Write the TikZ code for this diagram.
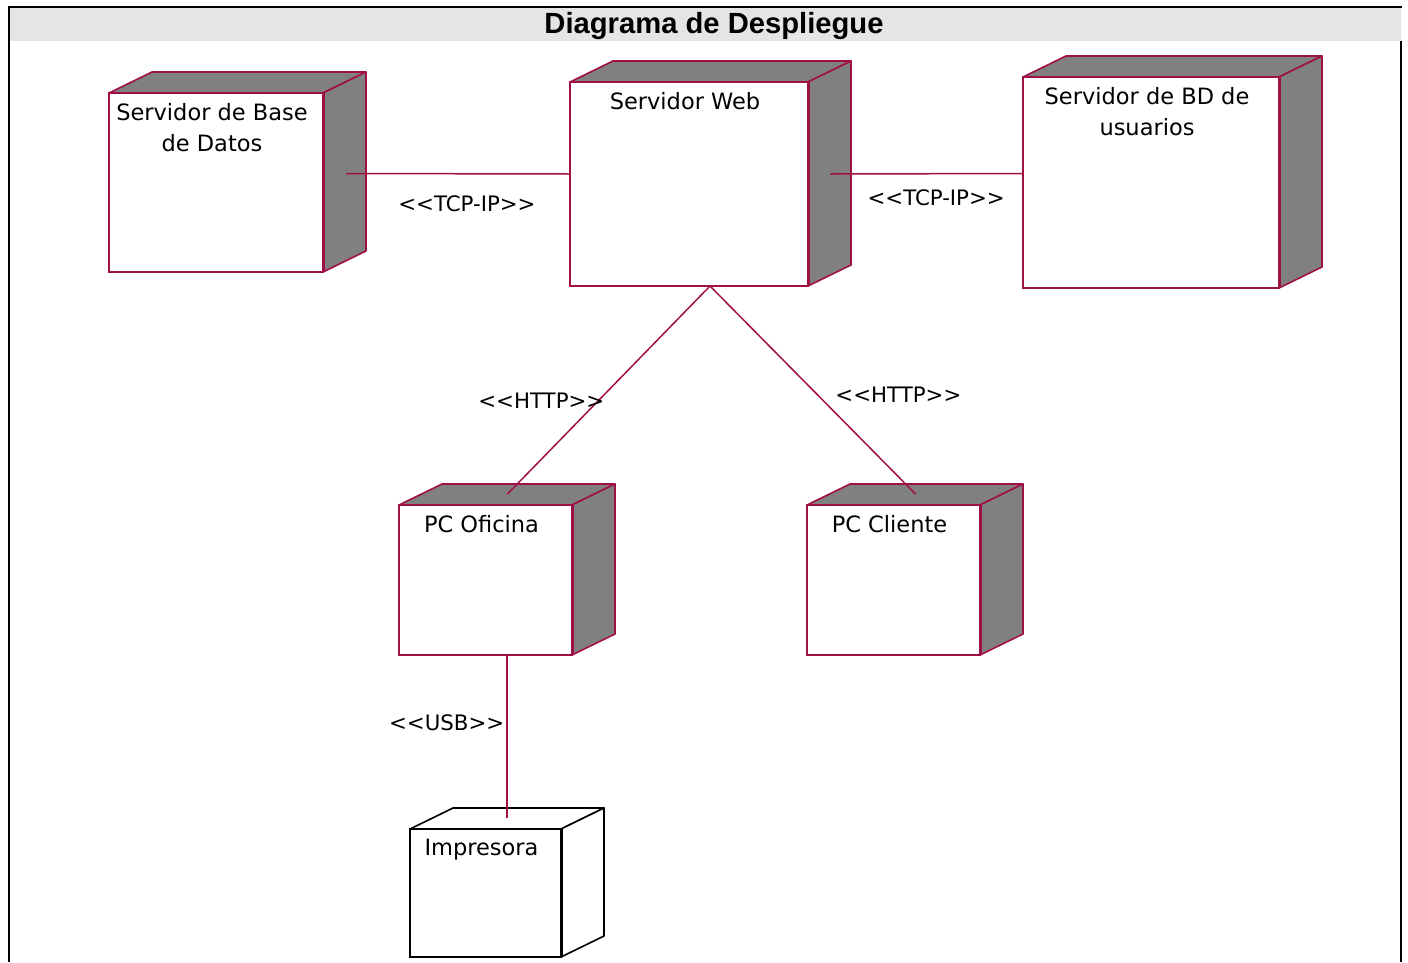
\documentclass[tikz,border=0pt]{standalone}
\usepackage{fontspec}
\newfontfamily\umlfont{DejaVu Sans}
\newfontfamily\titlefont{Liberation Sans}
\definecolor{devline}{RGB}{160,16,70}
\definecolor{devgray}{RGB}{128,128,128}
\definecolor{barfill}{RGB}{229,229,229}
\tikzset{
  dev/.style={draw=devline, line width=1.6pt, fill=white, inner sep=0pt, outer sep=0pt},
  face/.style={line width=1.6pt, line join=round},
  link/.style={draw=devline, line width=1.5pt},
  lbl/.style={font=\umlfont\fontsize{21.3}{31}\selectfont, inner sep=0pt},
  devname/.style={font=\umlfont\fontsize{22.5}{31}\selectfont, inner sep=0pt,
    align=center, anchor=north, yshift=-10pt, xshift=-4pt},
}
\newcommand{\stereo}[1]{<\kern0pt<#1>\kern0pt>}
% top and side of a device box: node, line colour, fill colour
\newcommand{\devfaces}[3]{%
  \filldraw[face, draw=#2, fill=#3] (#1.north west) -- ([shift={(43,-21)}]#1.north west)
    -- ([shift={(43,-21)}]#1.north east) -- (#1.north east) -- cycle;
  \filldraw[face, draw=#2, fill=#3] (#1.north east) -- ([shift={(43,-21)}]#1.north east)
    -- ([shift={(43,-21)}]#1.south east) -- (#1.south east) -- cycle;
  \draw[#2, line width=3pt] (#1.north east) -- (#1.south east);
}
\begin{document}
\begin{tikzpicture}[x=1pt, y=-1pt]
\useasboundingbox (0,0) rectangle (1408,962);

% frame and title
\fill[barfill] (9,8) rectangle (1401,41);
\draw[line width=2pt] (8,7) -- (1402,7);
\draw[line width=2pt] (9,7) -- (9,962);
\draw[line width=2pt] (1401,41) -- (1401,962);
\node[font=\titlefont\bfseries\fontsize{29.2}{35}\selectfont, inner sep=0pt] (title) at (714,26) {Diagrama de Despliegue};

% devices
\node[dev, minimum width=214pt, minimum height=179pt] (db) at (216,182.5) {};
\node[dev, minimum width=238pt, minimum height=204pt] (web) at (689,184) {};
\node[dev, minimum width=256pt, minimum height=211pt] (usr) at (1151,182.5) {};
\node[dev, minimum width=173pt, minimum height=150pt] (pco) at (485.5,580) {};
\node[dev, minimum width=173pt, minimum height=150pt] (pcc) at (893.5,580) {};
\node[dev, draw=black, minimum width=151pt, minimum height=128pt] (imp) at (485.5,893) {};

\devfaces{db}{devline}{devgray}
\devfaces{web}{devline}{devgray}
\devfaces{usr}{devline}{devgray}
\devfaces{pco}{devline}{devgray}
\devfaces{pcc}{devline}{devgray}
\devfaces{imp}{black}{white}

\node[devname] (db-t) at (db.north) {Servidor de Base\\de Datos};
\node[devname] (web-t) at (web.north) {Servidor Web};
\node[devname] (usr-t) at (usr.north) {Servidor de BD de\\usuarios};
\node[devname] (pco-t) at (pco.north) {PC Oficina};
\node[devname] (pcc-t) at (pcc.north) {PC Cliente};
\node[devname] (imp-t) at (imp.north) {Impresora};

% links
\draw[link] ([shift={(23,-9)}]db.east) -- ([shift={(0,-10)}]web.west)
  node[lbl, pos=0.54, anchor=north, yshift=-21pt] {\stereo{TCP-IP}};
\draw[link] ([shift={(22,-10)}]web.east) -- ([shift={(0,-9)}]usr.west)
  node[lbl, pos=0.55, anchor=north, yshift=-15.5pt] {\stereo{TCP-IP}};
\draw[link] ([xshift=21pt]web.south) -- ([shift={(22,-11)}]pco.north)
  node[lbl, pos=0.553, anchor=east, xshift=7pt] {\stereo{HTTP}};
\draw[link] ([xshift=21pt]web.south) -- ([shift={(22,-11)}]pcc.north)
  node[lbl, pos=0.524, anchor=west, xshift=17pt] {\stereo{HTTP}};
\draw[link] ([xshift=21.5pt]pco.south) -- ([shift={(21.5,-11)}]imp.north)
  node[lbl, pos=0.417, anchor=east, xshift=-2pt] {\stereo{USB}};
\end{tikzpicture}
\end{document}
